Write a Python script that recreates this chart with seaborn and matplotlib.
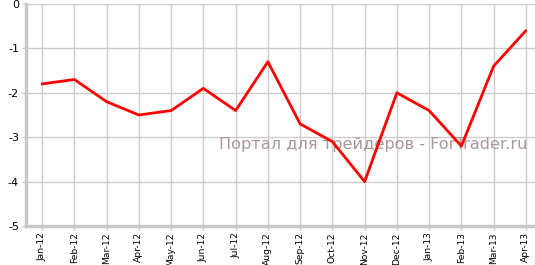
import matplotlib
matplotlib.use("Agg")
import matplotlib.pyplot as plt
import seaborn as sns
import pandas as pd

months = ["Jan-12", "Feb-12", "Mar-12", "Apr-12", "May-12", "Jun-12", "Jul-12", "Aug-12",
          "Sep-12", "Oct-12", "Nov-12", "Dec-12", "Jan-13", "Feb-13", "Mar-13", "Apr-13"]
values = [-1.8, -1.7, -2.2, -2.5, -2.4, -1.9, -2.4, -1.3,
          -2.7, -3.1, -4.0, -2.0, -2.4, -3.2, -1.4, -0.6]
yticks = [0, -1, -2, -3, -4, -5]
watermark = "Портал для трейдеров - ForTrader.ru"

df = pd.DataFrame({"x": range(len(months)), "v": values})

sns.set_theme(style="white")
plt.rcParams['font.family'] = ['DejaVu Sans']

fig = plt.figure(figsize=(5.35, 2.65), dpi=100)
W, H = 535, 265
left, right, top, bottom = 26, 542, 4, 226
ax = fig.add_axes([left / W, 1 - bottom / H, (right - left) / W, (bottom - top) / H])

sns.lineplot(data=df, x="x", y="v", ax=ax, color="#ff0000", linewidth=2, zorder=5)

ax.set_xlim(-0.5, len(months) - 0.5)
ax.set_ylim(-5, 0)
ax.set_xticks(range(len(months)))
ax.set_xticklabels(months, rotation=90, fontsize=6.6)
ax.set_yticks(yticks)
ax.set_yticklabels([str(t) for t in yticks], fontsize=8)
ax.grid(True, color="#cccccc", linewidth=1)
ax.set_axisbelow(True)
for s in ["top", "right"]:
    ax.spines[s].set_visible(False)
for s in ["left", "bottom"]:
    ax.spines[s].set_color("#c8c8c8")
    ax.spines[s].set_linewidth(2.5)
ax.tick_params(axis="both", which="both", direction="out", length=3, width=1,
               color="#c8c8c8", pad=2, labelcolor="black")
ax.tick_params(axis="x", pad=1.5)
ax.tick_params(left=True, bottom=True)
ax.set_xlabel("")
ax.set_ylabel("")

ax.text(373.5 / W, 1 - 145 / H, watermark, fontsize=11.6, color="#a89898",
        ha="center", va="center", transform=fig.transFigure, zorder=2)

fig.savefig("out.png", dpi=100)
